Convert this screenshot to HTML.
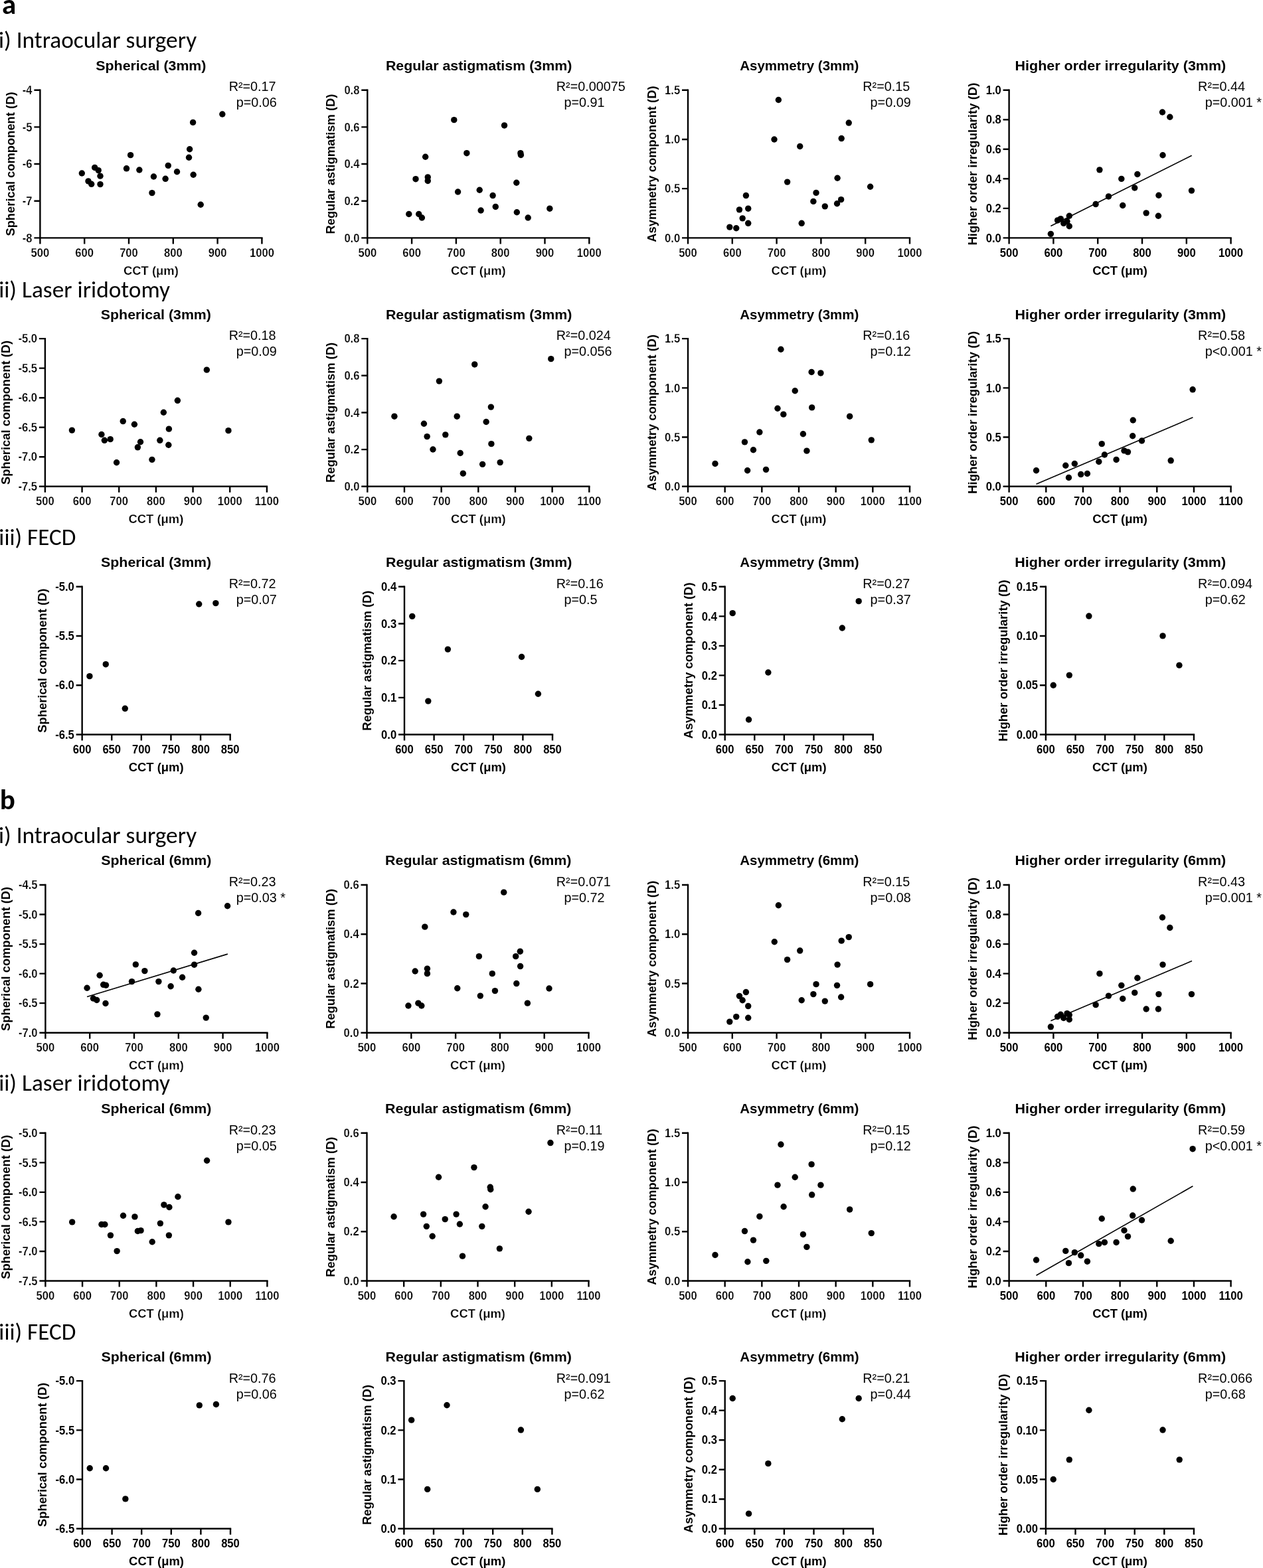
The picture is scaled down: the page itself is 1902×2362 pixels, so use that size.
<!DOCTYPE html>
<html lang="en"><head><meta charset="utf-8"><title>CCT correlation scatter plots</title>
<style>
html,body{margin:0;padding:0;background:#fff;}
body{width:1902px;height:2362px;overflow:hidden;}
svg{display:block;}
text{font-family:"Liberation Sans",Arial,Helvetica,sans-serif;fill:#000;}
.ax{fill:none;stroke:#000;stroke-width:2.4;stroke-linecap:square;}
.tk2{fill:none;stroke:#000;stroke-width:2.4;stroke-linecap:butt;}
.tk{font-size:17.5px;font-weight:700;}
.xl{font-size:18.4px;font-weight:700;}
.tkl,.xll{font-weight:700;stroke:#fff;stroke-width:0.25px;}
.yl{font-size:18.3px;font-weight:700;}
.ti{font-size:21.0px;font-weight:700;}
.st{font-size:19.8px;font-weight:400;}
.rl{fill:none;stroke:#000;stroke-width:1.6;}
.dt circle{fill:#000;}
.hd{font-family:Carlito,Calibri,"Liberation Sans",sans-serif;font-size:34.4px;font-weight:400;}
.let{font-family:Carlito,Calibri,"Liberation Sans",sans-serif;font-size:43px;font-weight:700;}
</style></head>
<body>
<svg width="1902" height="2362" viewBox="0 0 1902 2362">
<rect width="1902" height="2362" fill="#fff"/>
<text class="let" x="2.9" y="20.9">a</text>
<text class="let" x="-0.2" y="1219.4">b</text>
<text class="hd" x="-2.11" y="71.8" textLength="298.25" lengthAdjust="spacingAndGlyphs">i) Intraocular surgery</text>
<text class="hd" x="-1.87" y="447.8" textLength="257.91" lengthAdjust="spacingAndGlyphs">ii) Laser iridotomy</text>
<text class="hd" x="-1.65" y="821" textLength="115.91" lengthAdjust="spacingAndGlyphs">iii) FECD</text>
<text class="hd" x="-2.11" y="1270.4" textLength="298.25" lengthAdjust="spacingAndGlyphs">i) Intraocular surgery</text>
<text class="hd" x="-1.87" y="1642.8" textLength="257.91" lengthAdjust="spacingAndGlyphs">ii) Laser iridotomy</text>
<text class="hd" x="-1.65" y="2017.7" textLength="115.91" lengthAdjust="spacingAndGlyphs">iii) FECD</text>
<path class="tk2" d="M51.4 358.4H60.4M51.4 302.72H60.4M51.4 247.05H60.4M51.4 191.38H60.4M51.4 135.7H60.4M60.4 358.4V367.4M127.2 358.4V367.4M194 358.4V367.4M260.8 358.4V367.4M327.6 358.4V367.4M394.4 358.4V367.4"/>
<path class="ax" d="M60.4 135.7V358.4H394.4"/>
<text class="tk tkl" x="48.6" y="364.6" text-anchor="end" textLength="14.78" lengthAdjust="spacingAndGlyphs">-8</text>
<text class="tk tkl" x="48.6" y="308.92" text-anchor="end" textLength="14.78" lengthAdjust="spacingAndGlyphs">-7</text>
<text class="tk tkl" x="48.6" y="253.25" text-anchor="end" textLength="14.78" lengthAdjust="spacingAndGlyphs">-6</text>
<text class="tk tkl" x="48.6" y="197.57" text-anchor="end" textLength="14.78" lengthAdjust="spacingAndGlyphs">-5</text>
<text class="tk tkl" x="48.6" y="141.9" text-anchor="end" textLength="14.78" lengthAdjust="spacingAndGlyphs">-4</text>
<text class="tk tkl" x="60.4" y="386.7" text-anchor="middle" textLength="27.74" lengthAdjust="spacingAndGlyphs">500</text>
<text class="tk tkl" x="127.2" y="386.7" text-anchor="middle" textLength="27.74" lengthAdjust="spacingAndGlyphs">600</text>
<text class="tk tkl" x="194" y="386.7" text-anchor="middle" textLength="27.74" lengthAdjust="spacingAndGlyphs">700</text>
<text class="tk tkl" x="260.8" y="386.7" text-anchor="middle" textLength="27.74" lengthAdjust="spacingAndGlyphs">800</text>
<text class="tk tkl" x="327.6" y="386.7" text-anchor="middle" textLength="27.74" lengthAdjust="spacingAndGlyphs">900</text>
<text class="tk tkl" x="394.4" y="386.7" text-anchor="middle" textLength="36.98" lengthAdjust="spacingAndGlyphs">1000</text>
<text class="xl xll" x="227.4" y="413.6" text-anchor="middle">CCT (μm)</text>
<text class="yl" transform="translate(22.4 247.05) rotate(-90)" text-anchor="middle" style="font-size:18.35px">Spherical component (D)</text>
<text class="ti" x="227.4" y="106.1" text-anchor="middle" textLength="166.18" lengthAdjust="spacingAndGlyphs">Spherical (3mm)</text>
<text class="st" x="344.7" y="136.7">R²=0.17</text>
<text class="st" x="355.8" y="160.5">p=0.06</text>
<g class="dt"><circle cx="123.32" cy="261.01" r="4.7"/><circle cx="132.99" cy="272.9" r="4.7"/><circle cx="137.69" cy="277.32" r="4.7"/><circle cx="142.67" cy="252.44" r="4.7"/><circle cx="148.2" cy="256.59" r="4.7"/><circle cx="150.97" cy="265.16" r="4.7"/><circle cx="150.97" cy="277.6" r="4.7"/><circle cx="190.51" cy="253.82" r="4.7"/><circle cx="196.59" cy="233.64" r="4.7"/><circle cx="209.86" cy="256.03" r="4.7"/><circle cx="228.94" cy="290.6" r="4.7"/><circle cx="231.43" cy="265.99" r="4.7"/><circle cx="249.12" cy="269.31" r="4.7"/><circle cx="253.27" cy="249.4" r="4.7"/><circle cx="266.54" cy="258.8" r="4.7"/><circle cx="284.51" cy="237.23" r="4.7"/><circle cx="285.62" cy="224.79" r="4.7"/><circle cx="290.6" cy="184.42" r="4.7"/><circle cx="291.15" cy="263.22" r="4.7"/><circle cx="302.21" cy="308.29" r="4.7"/><circle cx="334.84" cy="171.98" r="4.7"/></g>
<path class="tk2" d="M544.3 358.4H553.3M544.3 302.72H553.3M544.3 247.05H553.3M544.3 191.38H553.3M544.3 135.7H553.3M553.3 358.4V367.4M620.1 358.4V367.4M686.9 358.4V367.4M753.7 358.4V367.4M820.5 358.4V367.4M887.3 358.4V367.4"/>
<path class="ax" d="M553.3 135.7V358.4H887.3"/>
<text class="tk tkl" x="541.5" y="364.6" text-anchor="end" textLength="23.11" lengthAdjust="spacingAndGlyphs">0.0</text>
<text class="tk tkl" x="541.5" y="308.92" text-anchor="end" textLength="23.11" lengthAdjust="spacingAndGlyphs">0.2</text>
<text class="tk tkl" x="541.5" y="253.25" text-anchor="end" textLength="23.11" lengthAdjust="spacingAndGlyphs">0.4</text>
<text class="tk tkl" x="541.5" y="197.57" text-anchor="end" textLength="23.11" lengthAdjust="spacingAndGlyphs">0.6</text>
<text class="tk tkl" x="541.5" y="141.9" text-anchor="end" textLength="23.11" lengthAdjust="spacingAndGlyphs">0.8</text>
<text class="tk tkl" x="553.3" y="386.7" text-anchor="middle" textLength="27.74" lengthAdjust="spacingAndGlyphs">500</text>
<text class="tk tkl" x="620.1" y="386.7" text-anchor="middle" textLength="27.74" lengthAdjust="spacingAndGlyphs">600</text>
<text class="tk tkl" x="686.9" y="386.7" text-anchor="middle" textLength="27.74" lengthAdjust="spacingAndGlyphs">700</text>
<text class="tk tkl" x="753.7" y="386.7" text-anchor="middle" textLength="27.74" lengthAdjust="spacingAndGlyphs">800</text>
<text class="tk tkl" x="820.5" y="386.7" text-anchor="middle" textLength="27.74" lengthAdjust="spacingAndGlyphs">900</text>
<text class="tk tkl" x="887.3" y="386.7" text-anchor="middle" textLength="36.98" lengthAdjust="spacingAndGlyphs">1000</text>
<text class="xl xll" x="720.3" y="413.6" text-anchor="middle">CCT (μm)</text>
<text class="yl" transform="translate(503.8 247.05) rotate(-90)" text-anchor="middle" style="font-size:18.35px">Regular astigmatism (D)</text>
<text class="ti" x="721.1" y="106.1" text-anchor="middle" textLength="280.4" lengthAdjust="spacingAndGlyphs">Regular astigmatism (3mm)</text>
<text class="st" x="837.8" y="136.7">R²=0.00075</text>
<text class="st" x="849.5" y="160.5">p=0.91</text>
<g class="dt"><circle cx="615.76" cy="322.49" r="4.7"/><circle cx="625.99" cy="269.68" r="4.7"/><circle cx="630.69" cy="322.49" r="4.7"/><circle cx="635.39" cy="328.02" r="4.7"/><circle cx="640.64" cy="236.22" r="4.7"/><circle cx="644.24" cy="266.91" r="4.7"/><circle cx="644.24" cy="272.44" r="4.7"/><circle cx="683.78" cy="180.64" r="4.7"/><circle cx="689.58" cy="289.03" r="4.7"/><circle cx="702.86" cy="230.69" r="4.7"/><circle cx="722.21" cy="286.27" r="4.7"/><circle cx="724.15" cy="316.96" r="4.7"/><circle cx="742.12" cy="294.56" r="4.7"/><circle cx="746.26" cy="311.43" r="4.7"/><circle cx="759.54" cy="188.94" r="4.7"/><circle cx="777.79" cy="275.21" r="4.7"/><circle cx="778.34" cy="319.72" r="4.7"/><circle cx="783.87" cy="230.69" r="4.7"/><circle cx="784.42" cy="233.45" r="4.7"/><circle cx="795.2" cy="328.02" r="4.7"/><circle cx="827.83" cy="314.19" r="4.7"/></g>
<path class="tk2" d="M1027 358.4H1036M1027 284.17H1036M1027 209.93H1036M1027 135.7H1036M1036 358.4V367.4M1102.8 358.4V367.4M1169.6 358.4V367.4M1236.4 358.4V367.4M1303.2 358.4V367.4M1370 358.4V367.4"/>
<path class="ax" d="M1036 135.7V358.4H1370"/>
<text class="tk tkl" x="1024.2" y="364.6" text-anchor="end" textLength="23.11" lengthAdjust="spacingAndGlyphs">0.0</text>
<text class="tk tkl" x="1024.2" y="290.37" text-anchor="end" textLength="23.11" lengthAdjust="spacingAndGlyphs">0.5</text>
<text class="tk tkl" x="1024.2" y="216.13" text-anchor="end" textLength="23.11" lengthAdjust="spacingAndGlyphs">1.0</text>
<text class="tk tkl" x="1024.2" y="141.9" text-anchor="end" textLength="23.11" lengthAdjust="spacingAndGlyphs">1.5</text>
<text class="tk tkl" x="1036" y="386.7" text-anchor="middle" textLength="27.74" lengthAdjust="spacingAndGlyphs">500</text>
<text class="tk tkl" x="1102.8" y="386.7" text-anchor="middle" textLength="27.74" lengthAdjust="spacingAndGlyphs">600</text>
<text class="tk tkl" x="1169.6" y="386.7" text-anchor="middle" textLength="27.74" lengthAdjust="spacingAndGlyphs">700</text>
<text class="tk tkl" x="1236.4" y="386.7" text-anchor="middle" textLength="27.74" lengthAdjust="spacingAndGlyphs">800</text>
<text class="tk tkl" x="1303.2" y="386.7" text-anchor="middle" textLength="27.74" lengthAdjust="spacingAndGlyphs">900</text>
<text class="tk tkl" x="1370" y="386.7" text-anchor="middle" textLength="36.98" lengthAdjust="spacingAndGlyphs">1000</text>
<text class="xl xll" x="1203" y="413.6" text-anchor="middle">CCT (μm)</text>
<text class="yl" transform="translate(988 247.05) rotate(-90)" text-anchor="middle" style="font-size:18.43px">Asymmetry component (D)</text>
<text class="ti" x="1203.8" y="106.1" text-anchor="middle" textLength="179.34" lengthAdjust="spacingAndGlyphs">Asymmetry (3mm)</text>
<text class="st" x="1299.3" y="136.7">R²=0.15</text>
<text class="st" x="1310.6" y="160.5">p=0.09</text>
<g class="dt"><circle cx="1098.8" cy="342.12" r="4.7"/><circle cx="1108.75" cy="343.78" r="4.7"/><circle cx="1113.45" cy="315.85" r="4.7"/><circle cx="1118.16" cy="328.85" r="4.7"/><circle cx="1123.41" cy="294.56" r="4.7"/><circle cx="1126.73" cy="314.19" r="4.7"/><circle cx="1126.73" cy="336.31" r="4.7"/><circle cx="1165.99" cy="209.95" r="4.7"/><circle cx="1172.35" cy="150.51" r="4.7"/><circle cx="1185.62" cy="274.1" r="4.7"/><circle cx="1204.7" cy="220.46" r="4.7"/><circle cx="1207.19" cy="336.31" r="4.7"/><circle cx="1224.88" cy="303.41" r="4.7"/><circle cx="1229.03" cy="290.41" r="4.7"/><circle cx="1242.3" cy="310.87" r="4.7"/><circle cx="1260.55" cy="306.73" r="4.7"/><circle cx="1261.1" cy="268.29" r="4.7"/><circle cx="1266.63" cy="300.64" r="4.7"/><circle cx="1267.19" cy="208.57" r="4.7"/><circle cx="1278.25" cy="185.07" r="4.7"/><circle cx="1310.6" cy="281.29" r="4.7"/></g>
<path class="tk2" d="M1510.6 358.4H1519.6M1510.6 313.86H1519.6M1510.6 269.32H1519.6M1510.6 224.78H1519.6M1510.6 180.24H1519.6M1510.6 135.7H1519.6M1519.6 358.4V367.4M1586.4 358.4V367.4M1653.2 358.4V367.4M1720 358.4V367.4M1786.8 358.4V367.4M1853.6 358.4V367.4"/>
<path class="ax" d="M1519.6 135.7V358.4H1853.6"/>
<text class="tk" x="1507.8" y="364.6" text-anchor="end" textLength="23.11" lengthAdjust="spacingAndGlyphs">0.0</text>
<text class="tk" x="1507.8" y="320.06" text-anchor="end" textLength="23.11" lengthAdjust="spacingAndGlyphs">0.2</text>
<text class="tk" x="1507.8" y="275.52" text-anchor="end" textLength="23.11" lengthAdjust="spacingAndGlyphs">0.4</text>
<text class="tk" x="1507.8" y="230.98" text-anchor="end" textLength="23.11" lengthAdjust="spacingAndGlyphs">0.6</text>
<text class="tk" x="1507.8" y="186.44" text-anchor="end" textLength="23.11" lengthAdjust="spacingAndGlyphs">0.8</text>
<text class="tk" x="1507.8" y="141.9" text-anchor="end" textLength="23.11" lengthAdjust="spacingAndGlyphs">1.0</text>
<text class="tk" x="1519.6" y="386.7" text-anchor="middle" textLength="27.74" lengthAdjust="spacingAndGlyphs">500</text>
<text class="tk" x="1586.4" y="386.7" text-anchor="middle" textLength="27.74" lengthAdjust="spacingAndGlyphs">600</text>
<text class="tk" x="1653.2" y="386.7" text-anchor="middle" textLength="27.74" lengthAdjust="spacingAndGlyphs">700</text>
<text class="tk" x="1720" y="386.7" text-anchor="middle" textLength="27.74" lengthAdjust="spacingAndGlyphs">800</text>
<text class="tk" x="1786.8" y="386.7" text-anchor="middle" textLength="27.74" lengthAdjust="spacingAndGlyphs">900</text>
<text class="tk" x="1853.6" y="386.7" text-anchor="middle" textLength="36.98" lengthAdjust="spacingAndGlyphs">1000</text>
<text class="xl" x="1686.6" y="413.6" text-anchor="middle">CCT (μm)</text>
<text class="yl" transform="translate(1470.7 247.05) rotate(-90)" text-anchor="middle" style="font-size:18.63px">Higher order irregularity (D)</text>
<text class="ti" x="1687.4" y="106.1" text-anchor="middle" textLength="317.71" lengthAdjust="spacingAndGlyphs">Higher order irregularity (3mm)</text>
<text class="st" x="1804.1" y="136.7">R²=0.44</text>
<text class="st" x="1814.7" y="160.5">p=0.001 *</text>
<path class="rl" d="M1582.37 340.46L1794.72 234.28"/>
<g class="dt"><circle cx="1582.37" cy="352.35" r="4.7"/><circle cx="1592.6" cy="331.89" r="4.7"/><circle cx="1597.3" cy="329.68" r="4.7"/><circle cx="1601.72" cy="336.31" r="4.7"/><circle cx="1606.98" cy="333.55" r="4.7"/><circle cx="1610.29" cy="325.25" r="4.7"/><circle cx="1610.29" cy="340.73" r="4.7"/><circle cx="1650.11" cy="307.56" r="4.7"/><circle cx="1655.91" cy="255.85" r="4.7"/><circle cx="1669.46" cy="295.94" r="4.7"/><circle cx="1688.82" cy="269.4" r="4.7"/><circle cx="1690.75" cy="309.49" r="4.7"/><circle cx="1708.73" cy="282.95" r="4.7"/><circle cx="1712.87" cy="262.49" r="4.7"/><circle cx="1726.14" cy="320.83" r="4.7"/><circle cx="1744.39" cy="325.25" r="4.7"/><circle cx="1744.95" cy="294.28" r="4.7"/><circle cx="1750.48" cy="169.03" r="4.7"/><circle cx="1751.03" cy="233.73" r="4.7"/><circle cx="1761.81" cy="176.22" r="4.7"/><circle cx="1794.44" cy="287.09" r="4.7"/></g>
<path class="tk2" d="M58.9 732.8H67.9M58.9 688.26H67.9M58.9 643.72H67.9M58.9 599.18H67.9M58.9 554.64H67.9M58.9 510.1H67.9M67.9 732.8V741.8M123.57 732.8V741.8M179.23 732.8V741.8M234.9 732.8V741.8M290.57 732.8V741.8M346.23 732.8V741.8M401.9 732.8V741.8"/>
<path class="ax" d="M67.9 510.1V732.8H401.9"/>
<text class="tk tkl" x="56.1" y="739" text-anchor="end" textLength="28.65" lengthAdjust="spacingAndGlyphs">-7.5</text>
<text class="tk tkl" x="56.1" y="694.46" text-anchor="end" textLength="28.65" lengthAdjust="spacingAndGlyphs">-7.0</text>
<text class="tk tkl" x="56.1" y="649.92" text-anchor="end" textLength="28.65" lengthAdjust="spacingAndGlyphs">-6.5</text>
<text class="tk tkl" x="56.1" y="605.38" text-anchor="end" textLength="28.65" lengthAdjust="spacingAndGlyphs">-6.0</text>
<text class="tk tkl" x="56.1" y="560.84" text-anchor="end" textLength="28.65" lengthAdjust="spacingAndGlyphs">-5.5</text>
<text class="tk tkl" x="56.1" y="516.3" text-anchor="end" textLength="28.65" lengthAdjust="spacingAndGlyphs">-5.0</text>
<text class="tk tkl" x="67.9" y="761.1" text-anchor="middle" textLength="27.74" lengthAdjust="spacingAndGlyphs">500</text>
<text class="tk tkl" x="123.57" y="761.1" text-anchor="middle" textLength="27.74" lengthAdjust="spacingAndGlyphs">600</text>
<text class="tk tkl" x="179.23" y="761.1" text-anchor="middle" textLength="27.74" lengthAdjust="spacingAndGlyphs">700</text>
<text class="tk tkl" x="234.9" y="761.1" text-anchor="middle" textLength="27.74" lengthAdjust="spacingAndGlyphs">800</text>
<text class="tk tkl" x="290.57" y="761.1" text-anchor="middle" textLength="27.74" lengthAdjust="spacingAndGlyphs">900</text>
<text class="tk tkl" x="346.23" y="761.1" text-anchor="middle" textLength="36.98" lengthAdjust="spacingAndGlyphs">1000</text>
<text class="tk tkl" x="401.9" y="761.1" text-anchor="middle" textLength="36.07" lengthAdjust="spacingAndGlyphs">1100</text>
<text class="xl xll" x="234.9" y="788" text-anchor="middle">CCT (μm)</text>
<text class="yl" transform="translate(15 621.45) rotate(-90)" text-anchor="middle" style="font-size:18.35px">Spherical component (D)</text>
<text class="ti" x="234.9" y="480.5" text-anchor="middle" textLength="166.18" lengthAdjust="spacingAndGlyphs">Spherical (3mm)</text>
<text class="st" x="344.7" y="512">R²=0.18</text>
<text class="st" x="355.8" y="535.8">p=0.09</text>
<g class="dt"><circle cx="108.39" cy="648.11" r="4.7"/><circle cx="152.9" cy="654.47" r="4.7"/><circle cx="157.33" cy="663.32" r="4.7"/><circle cx="166.17" cy="661.66" r="4.7"/><circle cx="175.57" cy="696.77" r="4.7"/><circle cx="185.25" cy="634.56" r="4.7"/><circle cx="202.39" cy="639.26" r="4.7"/><circle cx="207.37" cy="673.82" r="4.7"/><circle cx="211.52" cy="665.8" r="4.7"/><circle cx="228.94" cy="692.35" r="4.7"/><circle cx="240.83" cy="663.32" r="4.7"/><circle cx="246.36" cy="621.29" r="4.7"/><circle cx="253.82" cy="670.23" r="4.7"/><circle cx="254.38" cy="646.17" r="4.7"/><circle cx="267.37" cy="603.32" r="4.7"/><circle cx="311.33" cy="557.14" r="4.7"/><circle cx="343.96" cy="648.66" r="4.7"/></g>
<path class="tk2" d="M544.3 732.8H553.3M544.3 677.12H553.3M544.3 621.45H553.3M544.3 565.77H553.3M544.3 510.1H553.3M553.3 732.8V741.8M608.97 732.8V741.8M664.63 732.8V741.8M720.3 732.8V741.8M775.97 732.8V741.8M831.63 732.8V741.8M887.3 732.8V741.8"/>
<path class="ax" d="M553.3 510.1V732.8H887.3"/>
<text class="tk tkl" x="541.5" y="739" text-anchor="end" textLength="23.11" lengthAdjust="spacingAndGlyphs">0.0</text>
<text class="tk tkl" x="541.5" y="683.33" text-anchor="end" textLength="23.11" lengthAdjust="spacingAndGlyphs">0.2</text>
<text class="tk tkl" x="541.5" y="627.65" text-anchor="end" textLength="23.11" lengthAdjust="spacingAndGlyphs">0.4</text>
<text class="tk tkl" x="541.5" y="571.98" text-anchor="end" textLength="23.11" lengthAdjust="spacingAndGlyphs">0.6</text>
<text class="tk tkl" x="541.5" y="516.3" text-anchor="end" textLength="23.11" lengthAdjust="spacingAndGlyphs">0.8</text>
<text class="tk tkl" x="553.3" y="761.1" text-anchor="middle" textLength="27.74" lengthAdjust="spacingAndGlyphs">500</text>
<text class="tk tkl" x="608.97" y="761.1" text-anchor="middle" textLength="27.74" lengthAdjust="spacingAndGlyphs">600</text>
<text class="tk tkl" x="664.63" y="761.1" text-anchor="middle" textLength="27.74" lengthAdjust="spacingAndGlyphs">700</text>
<text class="tk tkl" x="720.3" y="761.1" text-anchor="middle" textLength="27.74" lengthAdjust="spacingAndGlyphs">800</text>
<text class="tk tkl" x="775.97" y="761.1" text-anchor="middle" textLength="27.74" lengthAdjust="spacingAndGlyphs">900</text>
<text class="tk tkl" x="831.63" y="761.1" text-anchor="middle" textLength="36.98" lengthAdjust="spacingAndGlyphs">1000</text>
<text class="tk tkl" x="887.3" y="761.1" text-anchor="middle" textLength="36.07" lengthAdjust="spacingAndGlyphs">1100</text>
<text class="xl xll" x="720.3" y="788" text-anchor="middle">CCT (μm)</text>
<text class="yl" transform="translate(503.8 621.45) rotate(-90)" text-anchor="middle" style="font-size:18.35px">Regular astigmatism (D)</text>
<text class="ti" x="721.1" y="480.5" text-anchor="middle" textLength="280.4" lengthAdjust="spacingAndGlyphs">Regular astigmatism (3mm)</text>
<text class="st" x="837.8" y="512">R²=0.024</text>
<text class="st" x="849.5" y="535.8">p=0.056</text>
<g class="dt"><circle cx="593.92" cy="627.19" r="4.7"/><circle cx="638.43" cy="638.25" r="4.7"/><circle cx="643.13" cy="657.6" r="4.7"/><circle cx="651.98" cy="676.96" r="4.7"/><circle cx="661.38" cy="574.1" r="4.7"/><circle cx="670.78" cy="654.84" r="4.7"/><circle cx="688.2" cy="627.19" r="4.7"/><circle cx="693.18" cy="682.49" r="4.7"/><circle cx="697.33" cy="713.18" r="4.7"/><circle cx="714.74" cy="548.94" r="4.7"/><circle cx="726.63" cy="699.35" r="4.7"/><circle cx="732.16" cy="635.48" r="4.7"/><circle cx="739.35" cy="613.09" r="4.7"/><circle cx="739.91" cy="668.66" r="4.7"/><circle cx="753.18" cy="696.59" r="4.7"/><circle cx="796.86" cy="660.37" r="4.7"/><circle cx="829.77" cy="540.64" r="4.7"/></g>
<path class="tk2" d="M1027 732.8H1036M1027 658.57H1036M1027 584.33H1036M1027 510.1H1036M1036 732.8V741.8M1091.67 732.8V741.8M1147.33 732.8V741.8M1203 732.8V741.8M1258.67 732.8V741.8M1314.33 732.8V741.8M1370 732.8V741.8"/>
<path class="ax" d="M1036 510.1V732.8H1370"/>
<text class="tk tkl" x="1024.2" y="739" text-anchor="end" textLength="23.11" lengthAdjust="spacingAndGlyphs">0.0</text>
<text class="tk tkl" x="1024.2" y="664.77" text-anchor="end" textLength="23.11" lengthAdjust="spacingAndGlyphs">0.5</text>
<text class="tk tkl" x="1024.2" y="590.53" text-anchor="end" textLength="23.11" lengthAdjust="spacingAndGlyphs">1.0</text>
<text class="tk tkl" x="1024.2" y="516.3" text-anchor="end" textLength="23.11" lengthAdjust="spacingAndGlyphs">1.5</text>
<text class="tk tkl" x="1036" y="761.1" text-anchor="middle" textLength="27.74" lengthAdjust="spacingAndGlyphs">500</text>
<text class="tk tkl" x="1091.67" y="761.1" text-anchor="middle" textLength="27.74" lengthAdjust="spacingAndGlyphs">600</text>
<text class="tk tkl" x="1147.33" y="761.1" text-anchor="middle" textLength="27.74" lengthAdjust="spacingAndGlyphs">700</text>
<text class="tk tkl" x="1203" y="761.1" text-anchor="middle" textLength="27.74" lengthAdjust="spacingAndGlyphs">800</text>
<text class="tk tkl" x="1258.67" y="761.1" text-anchor="middle" textLength="27.74" lengthAdjust="spacingAndGlyphs">900</text>
<text class="tk tkl" x="1314.33" y="761.1" text-anchor="middle" textLength="36.98" lengthAdjust="spacingAndGlyphs">1000</text>
<text class="tk tkl" x="1370" y="761.1" text-anchor="middle" textLength="36.07" lengthAdjust="spacingAndGlyphs">1100</text>
<text class="xl xll" x="1203" y="788" text-anchor="middle">CCT (μm)</text>
<text class="yl" transform="translate(988 621.45) rotate(-90)" text-anchor="middle" style="font-size:18.43px">Asymmetry component (D)</text>
<text class="ti" x="1203.8" y="480.5" text-anchor="middle" textLength="179.34" lengthAdjust="spacingAndGlyphs">Asymmetry (3mm)</text>
<text class="st" x="1299.3" y="512">R²=0.16</text>
<text class="st" x="1310.6" y="535.8">p=0.12</text>
<g class="dt"><circle cx="1076.96" cy="698.52" r="4.7"/><circle cx="1121.47" cy="665.9" r="4.7"/><circle cx="1125.62" cy="708.75" r="4.7"/><circle cx="1134.47" cy="677.79" r="4.7"/><circle cx="1143.87" cy="650.97" r="4.7"/><circle cx="1153.55" cy="707.37" r="4.7"/><circle cx="1170.97" cy="615.3" r="4.7"/><circle cx="1175.94" cy="526.27" r="4.7"/><circle cx="1179.81" cy="624.15" r="4.7"/><circle cx="1197.23" cy="588.75" r="4.7"/><circle cx="1209.4" cy="653.73" r="4.7"/><circle cx="1214.93" cy="679.17" r="4.7"/><circle cx="1222.12" cy="560.55" r="4.7"/><circle cx="1222.67" cy="613.92" r="4.7"/><circle cx="1235.94" cy="561.93" r="4.7"/><circle cx="1279.63" cy="627.19" r="4.7"/><circle cx="1312.25" cy="662.86" r="4.7"/></g>
<path class="tk2" d="M1510.6 732.8H1519.6M1510.6 658.57H1519.6M1510.6 584.33H1519.6M1510.6 510.1H1519.6M1519.6 732.8V741.8M1575.27 732.8V741.8M1630.93 732.8V741.8M1686.6 732.8V741.8M1742.27 732.8V741.8M1797.93 732.8V741.8M1853.6 732.8V741.8"/>
<path class="ax" d="M1519.6 510.1V732.8H1853.6"/>
<text class="tk" x="1507.8" y="739" text-anchor="end" textLength="23.11" lengthAdjust="spacingAndGlyphs">0.0</text>
<text class="tk" x="1507.8" y="664.77" text-anchor="end" textLength="23.11" lengthAdjust="spacingAndGlyphs">0.5</text>
<text class="tk" x="1507.8" y="590.53" text-anchor="end" textLength="23.11" lengthAdjust="spacingAndGlyphs">1.0</text>
<text class="tk" x="1507.8" y="516.3" text-anchor="end" textLength="23.11" lengthAdjust="spacingAndGlyphs">1.5</text>
<text class="tk" x="1519.6" y="761.1" text-anchor="middle" textLength="27.74" lengthAdjust="spacingAndGlyphs">500</text>
<text class="tk" x="1575.27" y="761.1" text-anchor="middle" textLength="27.74" lengthAdjust="spacingAndGlyphs">600</text>
<text class="tk" x="1630.93" y="761.1" text-anchor="middle" textLength="27.74" lengthAdjust="spacingAndGlyphs">700</text>
<text class="tk" x="1686.6" y="761.1" text-anchor="middle" textLength="27.74" lengthAdjust="spacingAndGlyphs">800</text>
<text class="tk" x="1742.27" y="761.1" text-anchor="middle" textLength="27.74" lengthAdjust="spacingAndGlyphs">900</text>
<text class="tk" x="1797.93" y="761.1" text-anchor="middle" textLength="36.98" lengthAdjust="spacingAndGlyphs">1000</text>
<text class="tk" x="1853.6" y="761.1" text-anchor="middle" textLength="36.07" lengthAdjust="spacingAndGlyphs">1100</text>
<text class="xl" x="1686.6" y="788" text-anchor="middle">CCT (μm)</text>
<text class="yl" transform="translate(1470.7 621.45) rotate(-90)" text-anchor="middle" style="font-size:18.63px">Higher order irregularity (D)</text>
<text class="ti" x="1687.4" y="480.5" text-anchor="middle" textLength="317.71" lengthAdjust="spacingAndGlyphs">Higher order irregularity (3mm)</text>
<text class="st" x="1804.1" y="512">R²=0.58</text>
<text class="st" x="1814.7" y="535.8">p&lt;0.001 *</text>
<path class="rl" d="M1560.52 729.21L1796.37 628.85"/>
<g class="dt"><circle cx="1560.52" cy="708.75" r="4.7"/><circle cx="1604.76" cy="701.29" r="4.7"/><circle cx="1609.46" cy="719.54" r="4.7"/><circle cx="1618.31" cy="698.52" r="4.7"/><circle cx="1627.71" cy="714.56" r="4.7"/><circle cx="1637.39" cy="713.45" r="4.7"/><circle cx="1654.81" cy="695.48" r="4.7"/><circle cx="1659.23" cy="668.66" r="4.7"/><circle cx="1663.38" cy="684.97" r="4.7"/><circle cx="1681.08" cy="692.44" r="4.7"/><circle cx="1692.97" cy="678.89" r="4.7"/><circle cx="1698.5" cy="680.83" r="4.7"/><circle cx="1705.68" cy="656.77" r="4.7"/><circle cx="1706.24" cy="632.99" r="4.7"/><circle cx="1719.51" cy="663.96" r="4.7"/><circle cx="1763.2" cy="693.82" r="4.7"/><circle cx="1796.1" cy="586.82" r="4.7"/></g>
<path class="tk2" d="M114.65 1106.5H123.65M114.65 1032.27H123.65M114.65 958.03H123.65M114.65 883.8H123.65M123.65 1106.5V1115.5M168.25 1106.5V1115.5M212.85 1106.5V1115.5M257.45 1106.5V1115.5M302.05 1106.5V1115.5M346.65 1106.5V1115.5"/>
<path class="ax" d="M123.65 883.8V1106.5H346.65"/>
<text class="tk" x="111.85" y="1112.7" text-anchor="end" textLength="28.65" lengthAdjust="spacingAndGlyphs">-6.5</text>
<text class="tk" x="111.85" y="1038.47" text-anchor="end" textLength="28.65" lengthAdjust="spacingAndGlyphs">-6.0</text>
<text class="tk" x="111.85" y="964.23" text-anchor="end" textLength="28.65" lengthAdjust="spacingAndGlyphs">-5.5</text>
<text class="tk" x="111.85" y="890" text-anchor="end" textLength="28.65" lengthAdjust="spacingAndGlyphs">-5.0</text>
<text class="tk" x="123.65" y="1134.8" text-anchor="middle" textLength="27.74" lengthAdjust="spacingAndGlyphs">600</text>
<text class="tk" x="168.25" y="1134.8" text-anchor="middle" textLength="27.74" lengthAdjust="spacingAndGlyphs">650</text>
<text class="tk" x="212.85" y="1134.8" text-anchor="middle" textLength="27.74" lengthAdjust="spacingAndGlyphs">700</text>
<text class="tk" x="257.45" y="1134.8" text-anchor="middle" textLength="27.74" lengthAdjust="spacingAndGlyphs">750</text>
<text class="tk" x="302.05" y="1134.8" text-anchor="middle" textLength="27.74" lengthAdjust="spacingAndGlyphs">800</text>
<text class="tk" x="346.65" y="1134.8" text-anchor="middle" textLength="27.74" lengthAdjust="spacingAndGlyphs">850</text>
<text class="xl" x="235.15" y="1161.7" text-anchor="middle">CCT (μm)</text>
<text class="yl" transform="translate(70.3 995.15) rotate(-90)" text-anchor="middle" style="font-size:18.35px">Spherical component (D)</text>
<text class="ti" x="235.15" y="854.2" text-anchor="middle" textLength="166.18" lengthAdjust="spacingAndGlyphs">Spherical (3mm)</text>
<text class="st" x="344.7" y="885.7">R²=0.72</text>
<text class="st" x="355.8" y="909.5">p=0.07</text>
<g class="dt"><circle cx="134.93" cy="1018.66" r="4.7"/><circle cx="159.26" cy="1000.69" r="4.7"/><circle cx="188.29" cy="1067.32" r="4.7"/><circle cx="299.72" cy="910" r="4.7"/><circle cx="324.88" cy="908.62" r="4.7"/></g>
<path class="tk2" d="M600 1106.5H609M600 1050.83H609M600 995.15H609M600 939.48H609M600 883.8H609M609 1106.5V1115.5M653.6 1106.5V1115.5M698.2 1106.5V1115.5M742.8 1106.5V1115.5M787.4 1106.5V1115.5M832 1106.5V1115.5"/>
<path class="ax" d="M609 883.8V1106.5H832"/>
<text class="tk" x="597.2" y="1112.7" text-anchor="end" textLength="23.11" lengthAdjust="spacingAndGlyphs">0.0</text>
<text class="tk" x="597.2" y="1057.03" text-anchor="end" textLength="23.11" lengthAdjust="spacingAndGlyphs">0.1</text>
<text class="tk" x="597.2" y="1001.35" text-anchor="end" textLength="23.11" lengthAdjust="spacingAndGlyphs">0.2</text>
<text class="tk" x="597.2" y="945.68" text-anchor="end" textLength="23.11" lengthAdjust="spacingAndGlyphs">0.3</text>
<text class="tk" x="597.2" y="890" text-anchor="end" textLength="23.11" lengthAdjust="spacingAndGlyphs">0.4</text>
<text class="tk" x="609" y="1134.8" text-anchor="middle" textLength="27.74" lengthAdjust="spacingAndGlyphs">600</text>
<text class="tk" x="653.6" y="1134.8" text-anchor="middle" textLength="27.74" lengthAdjust="spacingAndGlyphs">650</text>
<text class="tk" x="698.2" y="1134.8" text-anchor="middle" textLength="27.74" lengthAdjust="spacingAndGlyphs">700</text>
<text class="tk" x="742.8" y="1134.8" text-anchor="middle" textLength="27.74" lengthAdjust="spacingAndGlyphs">750</text>
<text class="tk" x="787.4" y="1134.8" text-anchor="middle" textLength="27.74" lengthAdjust="spacingAndGlyphs">800</text>
<text class="tk" x="832" y="1134.8" text-anchor="middle" textLength="27.74" lengthAdjust="spacingAndGlyphs">850</text>
<text class="xl" x="720.5" y="1161.7" text-anchor="middle">CCT (μm)</text>
<text class="yl" transform="translate(558.6 995.15) rotate(-90)" text-anchor="middle" style="font-size:18.35px">Regular astigmatism (D)</text>
<text class="ti" x="721.3" y="854.2" text-anchor="middle" textLength="280.4" lengthAdjust="spacingAndGlyphs">Regular astigmatism (3mm)</text>
<text class="st" x="837.8" y="885.7">R²=0.16</text>
<text class="st" x="849.5" y="909.5">p=0.5</text>
<g class="dt"><circle cx="620.74" cy="928.34" r="4.7"/><circle cx="644.79" cy="1056.08" r="4.7"/><circle cx="674.38" cy="978.11" r="4.7"/><circle cx="785.53" cy="989.45" r="4.7"/><circle cx="810.41" cy="1045.3" r="4.7"/></g>
<path class="tk2" d="M1082.7 1106.5H1091.7M1082.7 1061.96H1091.7M1082.7 1017.42H1091.7M1082.7 972.88H1091.7M1082.7 928.34H1091.7M1082.7 883.8H1091.7M1091.7 1106.5V1115.5M1136.3 1106.5V1115.5M1180.9 1106.5V1115.5M1225.5 1106.5V1115.5M1270.1 1106.5V1115.5M1314.7 1106.5V1115.5"/>
<path class="ax" d="M1091.7 883.8V1106.5H1314.7"/>
<text class="tk" x="1079.9" y="1112.7" text-anchor="end" textLength="23.11" lengthAdjust="spacingAndGlyphs">0.0</text>
<text class="tk" x="1079.9" y="1068.16" text-anchor="end" textLength="23.11" lengthAdjust="spacingAndGlyphs">0.1</text>
<text class="tk" x="1079.9" y="1023.62" text-anchor="end" textLength="23.11" lengthAdjust="spacingAndGlyphs">0.2</text>
<text class="tk" x="1079.9" y="979.08" text-anchor="end" textLength="23.11" lengthAdjust="spacingAndGlyphs">0.3</text>
<text class="tk" x="1079.9" y="934.54" text-anchor="end" textLength="23.11" lengthAdjust="spacingAndGlyphs">0.4</text>
<text class="tk" x="1079.9" y="890" text-anchor="end" textLength="23.11" lengthAdjust="spacingAndGlyphs">0.5</text>
<text class="tk" x="1091.7" y="1134.8" text-anchor="middle" textLength="27.74" lengthAdjust="spacingAndGlyphs">600</text>
<text class="tk" x="1136.3" y="1134.8" text-anchor="middle" textLength="27.74" lengthAdjust="spacingAndGlyphs">650</text>
<text class="tk" x="1180.9" y="1134.8" text-anchor="middle" textLength="27.74" lengthAdjust="spacingAndGlyphs">700</text>
<text class="tk" x="1225.5" y="1134.8" text-anchor="middle" textLength="27.74" lengthAdjust="spacingAndGlyphs">750</text>
<text class="tk" x="1270.1" y="1134.8" text-anchor="middle" textLength="27.74" lengthAdjust="spacingAndGlyphs">800</text>
<text class="tk" x="1314.7" y="1134.8" text-anchor="middle" textLength="27.74" lengthAdjust="spacingAndGlyphs">850</text>
<text class="xl" x="1203.2" y="1161.7" text-anchor="middle">CCT (μm)</text>
<text class="yl" transform="translate(1043.3 995.15) rotate(-90)" text-anchor="middle" style="font-size:18.43px">Asymmetry component (D)</text>
<text class="ti" x="1204" y="854.2" text-anchor="middle" textLength="179.34" lengthAdjust="spacingAndGlyphs">Asymmetry (3mm)</text>
<text class="st" x="1299.3" y="885.7">R²=0.27</text>
<text class="st" x="1310.6" y="909.5">p=0.37</text>
<g class="dt"><circle cx="1103.22" cy="923.64" r="4.7"/><circle cx="1127.56" cy="1084.01" r="4.7"/><circle cx="1156.86" cy="1012.95" r="4.7"/><circle cx="1268.29" cy="946.04" r="4.7"/><circle cx="1293.18" cy="905.67" r="4.7"/></g>
<path class="tk2" d="M1565.9 1106.5H1574.9M1565.9 1032.27H1574.9M1565.9 958.03H1574.9M1565.9 883.8H1574.9M1574.9 1106.5V1115.5M1619.5 1106.5V1115.5M1664.1 1106.5V1115.5M1708.7 1106.5V1115.5M1753.3 1106.5V1115.5M1797.9 1106.5V1115.5"/>
<path class="ax" d="M1574.9 883.8V1106.5H1797.9"/>
<text class="tk" x="1563.1" y="1112.7" text-anchor="end" textLength="32.36" lengthAdjust="spacingAndGlyphs">0.00</text>
<text class="tk" x="1563.1" y="1038.47" text-anchor="end" textLength="32.36" lengthAdjust="spacingAndGlyphs">0.05</text>
<text class="tk" x="1563.1" y="964.23" text-anchor="end" textLength="32.36" lengthAdjust="spacingAndGlyphs">0.10</text>
<text class="tk" x="1563.1" y="890" text-anchor="end" textLength="32.36" lengthAdjust="spacingAndGlyphs">0.15</text>
<text class="tk" x="1574.9" y="1134.8" text-anchor="middle" textLength="27.74" lengthAdjust="spacingAndGlyphs">600</text>
<text class="tk" x="1619.5" y="1134.8" text-anchor="middle" textLength="27.74" lengthAdjust="spacingAndGlyphs">650</text>
<text class="tk" x="1664.1" y="1134.8" text-anchor="middle" textLength="27.74" lengthAdjust="spacingAndGlyphs">700</text>
<text class="tk" x="1708.7" y="1134.8" text-anchor="middle" textLength="27.74" lengthAdjust="spacingAndGlyphs">750</text>
<text class="tk" x="1753.3" y="1134.8" text-anchor="middle" textLength="27.74" lengthAdjust="spacingAndGlyphs">800</text>
<text class="tk" x="1797.9" y="1134.8" text-anchor="middle" textLength="27.74" lengthAdjust="spacingAndGlyphs">850</text>
<text class="xl" x="1686.4" y="1161.7" text-anchor="middle">CCT (μm)</text>
<text class="yl" transform="translate(1516.9 995.15) rotate(-90)" text-anchor="middle" style="font-size:18.52px">Higher order irregularity (D)</text>
<text class="ti" x="1687.2" y="854.2" text-anchor="middle" textLength="317.71" lengthAdjust="spacingAndGlyphs">Higher order irregularity (3mm)</text>
<text class="st" x="1804.1" y="885.7">R²=0.094</text>
<text class="st" x="1814.7" y="909.5">p=0.62</text>
<g class="dt"><circle cx="1586.24" cy="1032.3" r="4.7"/><circle cx="1610.29" cy="1017.09" r="4.7"/><circle cx="1639.88" cy="928.06" r="4.7"/><circle cx="1751.03" cy="957.92" r="4.7"/><circle cx="1775.91" cy="1002.16" r="4.7"/></g>
<path class="tk2" d="M59.4 1555.7H68.4M59.4 1511.16H68.4M59.4 1466.62H68.4M59.4 1422.08H68.4M59.4 1377.54H68.4M59.4 1333H68.4M68.4 1555.7V1564.7M135.2 1555.7V1564.7M202 1555.7V1564.7M268.8 1555.7V1564.7M335.6 1555.7V1564.7M402.4 1555.7V1564.7"/>
<path class="ax" d="M68.4 1333V1555.7H402.4"/>
<text class="tk tkl" x="56.6" y="1561.9" text-anchor="end" textLength="28.65" lengthAdjust="spacingAndGlyphs">-7.0</text>
<text class="tk tkl" x="56.6" y="1517.36" text-anchor="end" textLength="28.65" lengthAdjust="spacingAndGlyphs">-6.5</text>
<text class="tk tkl" x="56.6" y="1472.82" text-anchor="end" textLength="28.65" lengthAdjust="spacingAndGlyphs">-6.0</text>
<text class="tk tkl" x="56.6" y="1428.28" text-anchor="end" textLength="28.65" lengthAdjust="spacingAndGlyphs">-5.5</text>
<text class="tk tkl" x="56.6" y="1383.74" text-anchor="end" textLength="28.65" lengthAdjust="spacingAndGlyphs">-5.0</text>
<text class="tk tkl" x="56.6" y="1339.2" text-anchor="end" textLength="28.65" lengthAdjust="spacingAndGlyphs">-4.5</text>
<text class="tk tkl" x="68.4" y="1584" text-anchor="middle" textLength="27.74" lengthAdjust="spacingAndGlyphs">500</text>
<text class="tk tkl" x="135.2" y="1584" text-anchor="middle" textLength="27.74" lengthAdjust="spacingAndGlyphs">600</text>
<text class="tk tkl" x="202" y="1584" text-anchor="middle" textLength="27.74" lengthAdjust="spacingAndGlyphs">700</text>
<text class="tk tkl" x="268.8" y="1584" text-anchor="middle" textLength="27.74" lengthAdjust="spacingAndGlyphs">800</text>
<text class="tk tkl" x="335.6" y="1584" text-anchor="middle" textLength="27.74" lengthAdjust="spacingAndGlyphs">900</text>
<text class="tk tkl" x="402.4" y="1584" text-anchor="middle" textLength="36.98" lengthAdjust="spacingAndGlyphs">1000</text>
<text class="xl xll" x="235.4" y="1610.9" text-anchor="middle">CCT (μm)</text>
<text class="yl" transform="translate(15 1444.35) rotate(-90)" text-anchor="middle" style="font-size:18.35px">Spherical component (D)</text>
<text class="ti" x="235.4" y="1303.4" text-anchor="middle" textLength="166.18" lengthAdjust="spacingAndGlyphs">Spherical (6mm)</text>
<text class="st" x="344.7" y="1335.1">R²=0.23</text>
<text class="st" x="355.8" y="1358.9">p=0.03 *</text>
<path class="rl" d="M131.06 1501.56L342.85 1437.14"/>
<g class="dt"><circle cx="131.06" cy="1488.29" r="4.7"/><circle cx="140.46" cy="1504.05" r="4.7"/><circle cx="145.71" cy="1506.54" r="4.7"/><circle cx="150.14" cy="1469.21" r="4.7"/><circle cx="155.67" cy="1483.32" r="4.7"/><circle cx="159.54" cy="1484.14" r="4.7"/><circle cx="158.98" cy="1511.52" r="4.7"/><circle cx="198.52" cy="1478.61" r="4.7"/><circle cx="204.33" cy="1452.9" r="4.7"/><circle cx="217.88" cy="1462.58" r="4.7"/><circle cx="236.96" cy="1527.83" r="4.7"/><circle cx="238.89" cy="1478.61" r="4.7"/><circle cx="257.14" cy="1485.8" r="4.7"/><circle cx="261.29" cy="1462.03" r="4.7"/><circle cx="274.56" cy="1472.26" r="4.7"/><circle cx="292.53" cy="1435.21" r="4.7"/><circle cx="292.53" cy="1453.18" r="4.7"/><circle cx="298.61" cy="1375.48" r="4.7"/><circle cx="298.89" cy="1490.23" r="4.7"/><circle cx="310.23" cy="1533.08" r="4.7"/><circle cx="342.58" cy="1364.7" r="4.7"/></g>
<path class="tk2" d="M543.5 1555.7H552.5M543.5 1481.47H552.5M543.5 1407.23H552.5M543.5 1333H552.5M552.5 1555.7V1564.7M619.3 1555.7V1564.7M686.1 1555.7V1564.7M752.9 1555.7V1564.7M819.7 1555.7V1564.7M886.5 1555.7V1564.7"/>
<path class="ax" d="M552.5 1333V1555.7H886.5"/>
<text class="tk tkl" x="540.7" y="1561.9" text-anchor="end" textLength="23.11" lengthAdjust="spacingAndGlyphs">0.0</text>
<text class="tk tkl" x="540.7" y="1487.67" text-anchor="end" textLength="23.11" lengthAdjust="spacingAndGlyphs">0.2</text>
<text class="tk tkl" x="540.7" y="1413.43" text-anchor="end" textLength="23.11" lengthAdjust="spacingAndGlyphs">0.4</text>
<text class="tk tkl" x="540.7" y="1339.2" text-anchor="end" textLength="23.11" lengthAdjust="spacingAndGlyphs">0.6</text>
<text class="tk tkl" x="552.5" y="1584" text-anchor="middle" textLength="27.74" lengthAdjust="spacingAndGlyphs">500</text>
<text class="tk tkl" x="619.3" y="1584" text-anchor="middle" textLength="27.74" lengthAdjust="spacingAndGlyphs">600</text>
<text class="tk tkl" x="686.1" y="1584" text-anchor="middle" textLength="27.74" lengthAdjust="spacingAndGlyphs">700</text>
<text class="tk tkl" x="752.9" y="1584" text-anchor="middle" textLength="27.74" lengthAdjust="spacingAndGlyphs">800</text>
<text class="tk tkl" x="819.7" y="1584" text-anchor="middle" textLength="27.74" lengthAdjust="spacingAndGlyphs">900</text>
<text class="tk tkl" x="886.5" y="1584" text-anchor="middle" textLength="36.98" lengthAdjust="spacingAndGlyphs">1000</text>
<text class="xl xll" x="719.5" y="1610.9" text-anchor="middle">CCT (μm)</text>
<text class="yl" transform="translate(503.8 1444.35) rotate(-90)" text-anchor="middle" style="font-size:18.35px">Regular astigmatism (D)</text>
<text class="ti" x="720.3" y="1303.4" text-anchor="middle" textLength="280.4" lengthAdjust="spacingAndGlyphs">Regular astigmatism (6mm)</text>
<text class="st" x="837.8" y="1335.1">R²=0.071</text>
<text class="st" x="849.5" y="1358.9">p=0.72</text>
<g class="dt"><circle cx="614.93" cy="1515.02" r="4.7"/><circle cx="625.16" cy="1463.04" r="4.7"/><circle cx="629.86" cy="1511.15" r="4.7"/><circle cx="634.84" cy="1515.02" r="4.7"/><circle cx="639.81" cy="1396.13" r="4.7"/><circle cx="643.41" cy="1459.17" r="4.7"/><circle cx="643.41" cy="1466.63" r="4.7"/><circle cx="682.95" cy="1374.01" r="4.7"/><circle cx="688.75" cy="1488.75" r="4.7"/><circle cx="701.75" cy="1377.6" r="4.7"/><circle cx="721.38" cy="1440.64" r="4.7"/><circle cx="723.32" cy="1500.09" r="4.7"/><circle cx="741.29" cy="1466.63" r="4.7"/><circle cx="745.44" cy="1492.62" r="4.7"/><circle cx="758.71" cy="1344.15" r="4.7"/><circle cx="776.68" cy="1440.64" r="4.7"/><circle cx="777.79" cy="1481.56" r="4.7"/><circle cx="783.32" cy="1433.18" r="4.7"/><circle cx="783.59" cy="1455.57" r="4.7"/><circle cx="794.37" cy="1511.15" r="4.7"/><circle cx="827" cy="1489.03" r="4.7"/></g>
<path class="tk2" d="M1027 1555.7H1036M1027 1481.47H1036M1027 1407.23H1036M1027 1333H1036M1036 1555.7V1564.7M1102.8 1555.7V1564.7M1169.6 1555.7V1564.7M1236.4 1555.7V1564.7M1303.2 1555.7V1564.7M1370 1555.7V1564.7"/>
<path class="ax" d="M1036 1333V1555.7H1370"/>
<text class="tk tkl" x="1024.2" y="1561.9" text-anchor="end" textLength="23.11" lengthAdjust="spacingAndGlyphs">0.0</text>
<text class="tk tkl" x="1024.2" y="1487.67" text-anchor="end" textLength="23.11" lengthAdjust="spacingAndGlyphs">0.5</text>
<text class="tk tkl" x="1024.2" y="1413.43" text-anchor="end" textLength="23.11" lengthAdjust="spacingAndGlyphs">1.0</text>
<text class="tk tkl" x="1024.2" y="1339.2" text-anchor="end" textLength="23.11" lengthAdjust="spacingAndGlyphs">1.5</text>
<text class="tk tkl" x="1036" y="1584" text-anchor="middle" textLength="27.74" lengthAdjust="spacingAndGlyphs">500</text>
<text class="tk tkl" x="1102.8" y="1584" text-anchor="middle" textLength="27.74" lengthAdjust="spacingAndGlyphs">600</text>
<text class="tk tkl" x="1169.6" y="1584" text-anchor="middle" textLength="27.74" lengthAdjust="spacingAndGlyphs">700</text>
<text class="tk tkl" x="1236.4" y="1584" text-anchor="middle" textLength="27.74" lengthAdjust="spacingAndGlyphs">800</text>
<text class="tk tkl" x="1303.2" y="1584" text-anchor="middle" textLength="27.74" lengthAdjust="spacingAndGlyphs">900</text>
<text class="tk tkl" x="1370" y="1584" text-anchor="middle" textLength="36.98" lengthAdjust="spacingAndGlyphs">1000</text>
<text class="xl xll" x="1203" y="1610.9" text-anchor="middle">CCT (μm)</text>
<text class="yl" transform="translate(988 1444.35) rotate(-90)" text-anchor="middle" style="font-size:18.43px">Asymmetry component (D)</text>
<text class="ti" x="1203.8" y="1303.4" text-anchor="middle" textLength="179.34" lengthAdjust="spacingAndGlyphs">Asymmetry (6mm)</text>
<text class="st" x="1299.3" y="1335.1">R²=0.15</text>
<text class="st" x="1310.6" y="1358.9">p=0.08</text>
<g class="dt"><circle cx="1098.8" cy="1539.08" r="4.7"/><circle cx="1108.75" cy="1531.61" r="4.7"/><circle cx="1113.45" cy="1500.37" r="4.7"/><circle cx="1118.16" cy="1506.73" r="4.7"/><circle cx="1123.41" cy="1494.56" r="4.7"/><circle cx="1126.73" cy="1515.57" r="4.7"/><circle cx="1126.73" cy="1533.27" r="4.7"/><circle cx="1166.27" cy="1418.8" r="4.7"/><circle cx="1172.35" cy="1363.78" r="4.7"/><circle cx="1185.62" cy="1445.62" r="4.7"/><circle cx="1204.7" cy="1432.07" r="4.7"/><circle cx="1207.19" cy="1506.73" r="4.7"/><circle cx="1224.88" cy="1497.6" r="4.7"/><circle cx="1229.03" cy="1482.67" r="4.7"/><circle cx="1242.3" cy="1508.11" r="4.7"/><circle cx="1260.55" cy="1484.33" r="4.7"/><circle cx="1261.1" cy="1453.09" r="4.7"/><circle cx="1266.63" cy="1502.03" r="4.7"/><circle cx="1267.19" cy="1417.14" r="4.7"/><circle cx="1278.25" cy="1411.61" r="4.7"/><circle cx="1310.6" cy="1482.67" r="4.7"/></g>
<path class="tk2" d="M1510.6 1555.7H1519.6M1510.6 1511.16H1519.6M1510.6 1466.62H1519.6M1510.6 1422.08H1519.6M1510.6 1377.54H1519.6M1510.6 1333H1519.6M1519.6 1555.7V1564.7M1586.4 1555.7V1564.7M1653.2 1555.7V1564.7M1720 1555.7V1564.7M1786.8 1555.7V1564.7M1853.6 1555.7V1564.7"/>
<path class="ax" d="M1519.6 1333V1555.7H1853.6"/>
<text class="tk" x="1507.8" y="1561.9" text-anchor="end" textLength="23.11" lengthAdjust="spacingAndGlyphs">0.0</text>
<text class="tk" x="1507.8" y="1517.36" text-anchor="end" textLength="23.11" lengthAdjust="spacingAndGlyphs">0.2</text>
<text class="tk" x="1507.8" y="1472.82" text-anchor="end" textLength="23.11" lengthAdjust="spacingAndGlyphs">0.4</text>
<text class="tk" x="1507.8" y="1428.28" text-anchor="end" textLength="23.11" lengthAdjust="spacingAndGlyphs">0.6</text>
<text class="tk" x="1507.8" y="1383.74" text-anchor="end" textLength="23.11" lengthAdjust="spacingAndGlyphs">0.8</text>
<text class="tk" x="1507.8" y="1339.2" text-anchor="end" textLength="23.11" lengthAdjust="spacingAndGlyphs">1.0</text>
<text class="tk" x="1519.6" y="1584" text-anchor="middle" textLength="27.74" lengthAdjust="spacingAndGlyphs">500</text>
<text class="tk" x="1586.4" y="1584" text-anchor="middle" textLength="27.74" lengthAdjust="spacingAndGlyphs">600</text>
<text class="tk" x="1653.2" y="1584" text-anchor="middle" textLength="27.74" lengthAdjust="spacingAndGlyphs">700</text>
<text class="tk" x="1720" y="1584" text-anchor="middle" textLength="27.74" lengthAdjust="spacingAndGlyphs">800</text>
<text class="tk" x="1786.8" y="1584" text-anchor="middle" textLength="27.74" lengthAdjust="spacingAndGlyphs">900</text>
<text class="tk" x="1853.6" y="1584" text-anchor="middle" textLength="36.98" lengthAdjust="spacingAndGlyphs">1000</text>
<text class="xl" x="1686.6" y="1610.9" text-anchor="middle">CCT (μm)</text>
<text class="yl" transform="translate(1470.7 1444.35) rotate(-90)" text-anchor="middle" style="font-size:18.63px">Higher order irregularity (D)</text>
<text class="ti" x="1687.4" y="1303.4" text-anchor="middle" textLength="317.71" lengthAdjust="spacingAndGlyphs">Higher order irregularity (6mm)</text>
<text class="st" x="1804.1" y="1335.1">R²=0.43</text>
<text class="st" x="1814.7" y="1358.9">p=0.001 *</text>
<path class="rl" d="M1582.37 1537.69L1794.99 1447.56"/>
<g class="dt"><circle cx="1582.37" cy="1546.82" r="4.7"/><circle cx="1592.6" cy="1531.33" r="4.7"/><circle cx="1597.3" cy="1528.29" r="4.7"/><circle cx="1601.72" cy="1533.55" r="4.7"/><circle cx="1606.98" cy="1526.63" r="4.7"/><circle cx="1610.29" cy="1528.85" r="4.7"/><circle cx="1610.29" cy="1535.76" r="4.7"/><circle cx="1650.11" cy="1513.64" r="4.7"/><circle cx="1655.91" cy="1466.63" r="4.7"/><circle cx="1669.46" cy="1500.09" r="4.7"/><circle cx="1688.82" cy="1484.33" r="4.7"/><circle cx="1690.75" cy="1504.51" r="4.7"/><circle cx="1708.73" cy="1495.39" r="4.7"/><circle cx="1712.87" cy="1473.27" r="4.7"/><circle cx="1726.14" cy="1520" r="4.7"/><circle cx="1744.39" cy="1520" r="4.7"/><circle cx="1744.95" cy="1497.6" r="4.7"/><circle cx="1750.48" cy="1382.03" r="4.7"/><circle cx="1751.03" cy="1453.09" r="4.7"/><circle cx="1761.81" cy="1397.51" r="4.7"/><circle cx="1794.44" cy="1497.6" r="4.7"/></g>
<path class="tk2" d="M59.4 1929.5H68.4M59.4 1884.96H68.4M59.4 1840.42H68.4M59.4 1795.88H68.4M59.4 1751.34H68.4M59.4 1706.8H68.4M68.4 1929.5V1938.5M124.07 1929.5V1938.5M179.73 1929.5V1938.5M235.4 1929.5V1938.5M291.07 1929.5V1938.5M346.73 1929.5V1938.5M402.4 1929.5V1938.5"/>
<path class="ax" d="M68.4 1706.8V1929.5H402.4"/>
<text class="tk tkl" x="56.6" y="1935.7" text-anchor="end" textLength="28.65" lengthAdjust="spacingAndGlyphs">-7.5</text>
<text class="tk tkl" x="56.6" y="1891.16" text-anchor="end" textLength="28.65" lengthAdjust="spacingAndGlyphs">-7.0</text>
<text class="tk tkl" x="56.6" y="1846.62" text-anchor="end" textLength="28.65" lengthAdjust="spacingAndGlyphs">-6.5</text>
<text class="tk tkl" x="56.6" y="1802.08" text-anchor="end" textLength="28.65" lengthAdjust="spacingAndGlyphs">-6.0</text>
<text class="tk tkl" x="56.6" y="1757.54" text-anchor="end" textLength="28.65" lengthAdjust="spacingAndGlyphs">-5.5</text>
<text class="tk tkl" x="56.6" y="1713" text-anchor="end" textLength="28.65" lengthAdjust="spacingAndGlyphs">-5.0</text>
<text class="tk tkl" x="68.4" y="1957.8" text-anchor="middle" textLength="27.74" lengthAdjust="spacingAndGlyphs">500</text>
<text class="tk tkl" x="124.07" y="1957.8" text-anchor="middle" textLength="27.74" lengthAdjust="spacingAndGlyphs">600</text>
<text class="tk tkl" x="179.73" y="1957.8" text-anchor="middle" textLength="27.74" lengthAdjust="spacingAndGlyphs">700</text>
<text class="tk tkl" x="235.4" y="1957.8" text-anchor="middle" textLength="27.74" lengthAdjust="spacingAndGlyphs">800</text>
<text class="tk tkl" x="291.07" y="1957.8" text-anchor="middle" textLength="27.74" lengthAdjust="spacingAndGlyphs">900</text>
<text class="tk tkl" x="346.73" y="1957.8" text-anchor="middle" textLength="36.98" lengthAdjust="spacingAndGlyphs">1000</text>
<text class="tk tkl" x="402.4" y="1957.8" text-anchor="middle" textLength="36.07" lengthAdjust="spacingAndGlyphs">1100</text>
<text class="xl xll" x="235.4" y="1984.7" text-anchor="middle">CCT (μm)</text>
<text class="yl" transform="translate(15 1818.15) rotate(-90)" text-anchor="middle" style="font-size:18.35px">Spherical component (D)</text>
<text class="ti" x="235.4" y="1677.2" text-anchor="middle" textLength="166.18" lengthAdjust="spacingAndGlyphs">Spherical (6mm)</text>
<text class="st" x="344.7" y="1708.7">R²=0.23</text>
<text class="st" x="355.8" y="1732.5">p=0.05</text>
<g class="dt"><circle cx="108.66" cy="1840.92" r="4.7"/><circle cx="152.9" cy="1844.51" r="4.7"/><circle cx="157.88" cy="1844.51" r="4.7"/><circle cx="166.45" cy="1860.83" r="4.7"/><circle cx="176.13" cy="1884.61" r="4.7"/><circle cx="185.53" cy="1831.24" r="4.7"/><circle cx="202.95" cy="1832.9" r="4.7"/><circle cx="207.37" cy="1854.47" r="4.7"/><circle cx="212.07" cy="1853.64" r="4.7"/><circle cx="229.21" cy="1870.78" r="4.7"/><circle cx="241.38" cy="1842.86" r="4.7"/><circle cx="246.91" cy="1814.93" r="4.7"/><circle cx="254.38" cy="1860.83" r="4.7"/><circle cx="254.93" cy="1818.52" r="4.7"/><circle cx="267.92" cy="1802.76" r="4.7"/><circle cx="311.61" cy="1748.29" r="4.7"/><circle cx="343.96" cy="1840.92" r="4.7"/></g>
<path class="tk2" d="M543.5 1929.5H552.5M543.5 1855.27H552.5M543.5 1781.03H552.5M543.5 1706.8H552.5M552.5 1929.5V1938.5M608.17 1929.5V1938.5M663.83 1929.5V1938.5M719.5 1929.5V1938.5M775.17 1929.5V1938.5M830.83 1929.5V1938.5M886.5 1929.5V1938.5"/>
<path class="ax" d="M552.5 1706.8V1929.5H886.5"/>
<text class="tk tkl" x="540.7" y="1935.7" text-anchor="end" textLength="23.11" lengthAdjust="spacingAndGlyphs">0.0</text>
<text class="tk tkl" x="540.7" y="1861.47" text-anchor="end" textLength="23.11" lengthAdjust="spacingAndGlyphs">0.2</text>
<text class="tk tkl" x="540.7" y="1787.23" text-anchor="end" textLength="23.11" lengthAdjust="spacingAndGlyphs">0.4</text>
<text class="tk tkl" x="540.7" y="1713" text-anchor="end" textLength="23.11" lengthAdjust="spacingAndGlyphs">0.6</text>
<text class="tk tkl" x="552.5" y="1957.8" text-anchor="middle" textLength="27.74" lengthAdjust="spacingAndGlyphs">500</text>
<text class="tk tkl" x="608.17" y="1957.8" text-anchor="middle" textLength="27.74" lengthAdjust="spacingAndGlyphs">600</text>
<text class="tk tkl" x="663.83" y="1957.8" text-anchor="middle" textLength="27.74" lengthAdjust="spacingAndGlyphs">700</text>
<text class="tk tkl" x="719.5" y="1957.8" text-anchor="middle" textLength="27.74" lengthAdjust="spacingAndGlyphs">800</text>
<text class="tk tkl" x="775.17" y="1957.8" text-anchor="middle" textLength="27.74" lengthAdjust="spacingAndGlyphs">900</text>
<text class="tk tkl" x="830.83" y="1957.8" text-anchor="middle" textLength="36.98" lengthAdjust="spacingAndGlyphs">1000</text>
<text class="tk tkl" x="886.5" y="1957.8" text-anchor="middle" textLength="36.07" lengthAdjust="spacingAndGlyphs">1100</text>
<text class="xl xll" x="719.5" y="1984.7" text-anchor="middle">CCT (μm)</text>
<text class="yl" transform="translate(503.8 1818.15) rotate(-90)" text-anchor="middle" style="font-size:18.35px">Regular astigmatism (D)</text>
<text class="ti" x="720.3" y="1677.2" text-anchor="middle" textLength="280.4" lengthAdjust="spacingAndGlyphs">Regular astigmatism (6mm)</text>
<text class="st" x="837.8" y="1708.7">R²=0.11</text>
<text class="st" x="849.5" y="1732.5">p=0.19</text>
<g class="dt"><circle cx="593.09" cy="1832.72" r="4.7"/><circle cx="637.6" cy="1829.12" r="4.7"/><circle cx="642.3" cy="1847.37" r="4.7"/><circle cx="651.15" cy="1862.3" r="4.7"/><circle cx="660.55" cy="1773.27" r="4.7"/><circle cx="670.23" cy="1836.59" r="4.7"/><circle cx="687.09" cy="1829.12" r="4.7"/><circle cx="692.35" cy="1844.05" r="4.7"/><circle cx="696.5" cy="1892.16" r="4.7"/><circle cx="713.91" cy="1758.62" r="4.7"/><circle cx="725.8" cy="1847.37" r="4.7"/><circle cx="731.06" cy="1817.79" r="4.7"/><circle cx="738.25" cy="1788.2" r="4.7"/><circle cx="738.8" cy="1791.8" r="4.7"/><circle cx="752.35" cy="1880.83" r="4.7"/><circle cx="796.03" cy="1825.25" r="4.7"/><circle cx="828.94" cy="1721.57" r="4.7"/></g>
<path class="tk2" d="M1027 1929.5H1036M1027 1855.27H1036M1027 1781.03H1036M1027 1706.8H1036M1036 1929.5V1938.5M1091.67 1929.5V1938.5M1147.33 1929.5V1938.5M1203 1929.5V1938.5M1258.67 1929.5V1938.5M1314.33 1929.5V1938.5M1370 1929.5V1938.5"/>
<path class="ax" d="M1036 1706.8V1929.5H1370"/>
<text class="tk tkl" x="1024.2" y="1935.7" text-anchor="end" textLength="23.11" lengthAdjust="spacingAndGlyphs">0.0</text>
<text class="tk tkl" x="1024.2" y="1861.47" text-anchor="end" textLength="23.11" lengthAdjust="spacingAndGlyphs">0.5</text>
<text class="tk tkl" x="1024.2" y="1787.23" text-anchor="end" textLength="23.11" lengthAdjust="spacingAndGlyphs">1.0</text>
<text class="tk tkl" x="1024.2" y="1713" text-anchor="end" textLength="23.11" lengthAdjust="spacingAndGlyphs">1.5</text>
<text class="tk tkl" x="1036" y="1957.8" text-anchor="middle" textLength="27.74" lengthAdjust="spacingAndGlyphs">500</text>
<text class="tk tkl" x="1091.67" y="1957.8" text-anchor="middle" textLength="27.74" lengthAdjust="spacingAndGlyphs">600</text>
<text class="tk tkl" x="1147.33" y="1957.8" text-anchor="middle" textLength="27.74" lengthAdjust="spacingAndGlyphs">700</text>
<text class="tk tkl" x="1203" y="1957.8" text-anchor="middle" textLength="27.74" lengthAdjust="spacingAndGlyphs">800</text>
<text class="tk tkl" x="1258.67" y="1957.8" text-anchor="middle" textLength="27.74" lengthAdjust="spacingAndGlyphs">900</text>
<text class="tk tkl" x="1314.33" y="1957.8" text-anchor="middle" textLength="36.98" lengthAdjust="spacingAndGlyphs">1000</text>
<text class="tk tkl" x="1370" y="1957.8" text-anchor="middle" textLength="36.07" lengthAdjust="spacingAndGlyphs">1100</text>
<text class="xl xll" x="1203" y="1984.7" text-anchor="middle">CCT (μm)</text>
<text class="yl" transform="translate(988 1818.15) rotate(-90)" text-anchor="middle" style="font-size:18.43px">Asymmetry component (D)</text>
<text class="ti" x="1203.8" y="1677.2" text-anchor="middle" textLength="179.34" lengthAdjust="spacingAndGlyphs">Asymmetry (6mm)</text>
<text class="st" x="1299.3" y="1708.7">R²=0.15</text>
<text class="st" x="1310.6" y="1732.5">p=0.12</text>
<g class="dt"><circle cx="1076.96" cy="1890.5" r="4.7"/><circle cx="1121.47" cy="1854.56" r="4.7"/><circle cx="1125.9" cy="1900.73" r="4.7"/><circle cx="1134.47" cy="1868.11" r="4.7"/><circle cx="1143.87" cy="1832.44" r="4.7"/><circle cx="1153.82" cy="1899.35" r="4.7"/><circle cx="1170.97" cy="1785.16" r="4.7"/><circle cx="1175.94" cy="1724.05" r="4.7"/><circle cx="1180.09" cy="1817.79" r="4.7"/><circle cx="1197.23" cy="1773.27" r="4.7"/><circle cx="1209.4" cy="1859.54" r="4.7"/><circle cx="1214.93" cy="1878.34" r="4.7"/><circle cx="1222.12" cy="1753.92" r="4.7"/><circle cx="1222.67" cy="1799.81" r="4.7"/><circle cx="1235.94" cy="1785.16" r="4.7"/><circle cx="1279.63" cy="1821.93" r="4.7"/><circle cx="1312.25" cy="1857.6" r="4.7"/></g>
<path class="tk2" d="M1510.6 1929.5H1519.6M1510.6 1884.96H1519.6M1510.6 1840.42H1519.6M1510.6 1795.88H1519.6M1510.6 1751.34H1519.6M1510.6 1706.8H1519.6M1519.6 1929.5V1938.5M1575.27 1929.5V1938.5M1630.93 1929.5V1938.5M1686.6 1929.5V1938.5M1742.27 1929.5V1938.5M1797.93 1929.5V1938.5M1853.6 1929.5V1938.5"/>
<path class="ax" d="M1519.6 1706.8V1929.5H1853.6"/>
<text class="tk" x="1507.8" y="1935.7" text-anchor="end" textLength="23.11" lengthAdjust="spacingAndGlyphs">0.0</text>
<text class="tk" x="1507.8" y="1891.16" text-anchor="end" textLength="23.11" lengthAdjust="spacingAndGlyphs">0.2</text>
<text class="tk" x="1507.8" y="1846.62" text-anchor="end" textLength="23.11" lengthAdjust="spacingAndGlyphs">0.4</text>
<text class="tk" x="1507.8" y="1802.08" text-anchor="end" textLength="23.11" lengthAdjust="spacingAndGlyphs">0.6</text>
<text class="tk" x="1507.8" y="1757.54" text-anchor="end" textLength="23.11" lengthAdjust="spacingAndGlyphs">0.8</text>
<text class="tk" x="1507.8" y="1713" text-anchor="end" textLength="23.11" lengthAdjust="spacingAndGlyphs">1.0</text>
<text class="tk" x="1519.6" y="1957.8" text-anchor="middle" textLength="27.74" lengthAdjust="spacingAndGlyphs">500</text>
<text class="tk" x="1575.27" y="1957.8" text-anchor="middle" textLength="27.74" lengthAdjust="spacingAndGlyphs">600</text>
<text class="tk" x="1630.93" y="1957.8" text-anchor="middle" textLength="27.74" lengthAdjust="spacingAndGlyphs">700</text>
<text class="tk" x="1686.6" y="1957.8" text-anchor="middle" textLength="27.74" lengthAdjust="spacingAndGlyphs">800</text>
<text class="tk" x="1742.27" y="1957.8" text-anchor="middle" textLength="27.74" lengthAdjust="spacingAndGlyphs">900</text>
<text class="tk" x="1797.93" y="1957.8" text-anchor="middle" textLength="36.98" lengthAdjust="spacingAndGlyphs">1000</text>
<text class="tk" x="1853.6" y="1957.8" text-anchor="middle" textLength="36.07" lengthAdjust="spacingAndGlyphs">1100</text>
<text class="xl" x="1686.6" y="1984.7" text-anchor="middle">CCT (μm)</text>
<text class="yl" transform="translate(1470.7 1818.15) rotate(-90)" text-anchor="middle" style="font-size:18.63px">Higher order irregularity (D)</text>
<text class="ti" x="1687.4" y="1677.2" text-anchor="middle" textLength="317.71" lengthAdjust="spacingAndGlyphs">Higher order irregularity (6mm)</text>
<text class="st" x="1804.1" y="1708.7">R²=0.59</text>
<text class="st" x="1814.7" y="1732.5">p&lt;0.001 *</text>
<path class="rl" d="M1560.52 1921.2L1796.37 1786.82"/>
<g class="dt"><circle cx="1560.52" cy="1897.97" r="4.7"/><circle cx="1604.76" cy="1884.42" r="4.7"/><circle cx="1609.46" cy="1902.67" r="4.7"/><circle cx="1618.31" cy="1886.63" r="4.7"/><circle cx="1627.71" cy="1891.06" r="4.7"/><circle cx="1637.39" cy="1900.18" r="4.7"/><circle cx="1654.81" cy="1873.64" r="4.7"/><circle cx="1659.23" cy="1835.76" r="4.7"/><circle cx="1663.38" cy="1871.43" r="4.7"/><circle cx="1681.08" cy="1871.43" r="4.7"/><circle cx="1692.97" cy="1853.45" r="4.7"/><circle cx="1698.5" cy="1862.58" r="4.7"/><circle cx="1705.68" cy="1831.06" r="4.7"/><circle cx="1706.24" cy="1790.97" r="4.7"/><circle cx="1719.51" cy="1837.97" r="4.7"/><circle cx="1763.2" cy="1869.21" r="4.7"/><circle cx="1796.1" cy="1730.69" r="4.7"/></g>
<path class="tk2" d="M115 2302.8H124M115 2228.57H124M115 2154.33H124M115 2080.1H124M124 2302.8V2311.8M168.6 2302.8V2311.8M213.2 2302.8V2311.8M257.8 2302.8V2311.8M302.4 2302.8V2311.8M347 2302.8V2311.8"/>
<path class="ax" d="M124 2080.1V2302.8H347"/>
<text class="tk" x="112.2" y="2309" text-anchor="end" textLength="28.65" lengthAdjust="spacingAndGlyphs">-6.5</text>
<text class="tk" x="112.2" y="2234.77" text-anchor="end" textLength="28.65" lengthAdjust="spacingAndGlyphs">-6.0</text>
<text class="tk" x="112.2" y="2160.53" text-anchor="end" textLength="28.65" lengthAdjust="spacingAndGlyphs">-5.5</text>
<text class="tk" x="112.2" y="2086.3" text-anchor="end" textLength="28.65" lengthAdjust="spacingAndGlyphs">-5.0</text>
<text class="tk" x="124" y="2331.1" text-anchor="middle" textLength="27.74" lengthAdjust="spacingAndGlyphs">600</text>
<text class="tk" x="168.6" y="2331.1" text-anchor="middle" textLength="27.74" lengthAdjust="spacingAndGlyphs">650</text>
<text class="tk" x="213.2" y="2331.1" text-anchor="middle" textLength="27.74" lengthAdjust="spacingAndGlyphs">700</text>
<text class="tk" x="257.8" y="2331.1" text-anchor="middle" textLength="27.74" lengthAdjust="spacingAndGlyphs">750</text>
<text class="tk" x="302.4" y="2331.1" text-anchor="middle" textLength="27.74" lengthAdjust="spacingAndGlyphs">800</text>
<text class="tk" x="347" y="2331.1" text-anchor="middle" textLength="27.74" lengthAdjust="spacingAndGlyphs">850</text>
<text class="xl" x="235.5" y="2358" text-anchor="middle">CCT (μm)</text>
<text class="yl" transform="translate(70.3 2191.45) rotate(-90)" text-anchor="middle" style="font-size:18.35px">Spherical component (D)</text>
<text class="ti" x="235.5" y="2050.5" text-anchor="middle" textLength="166.18" lengthAdjust="spacingAndGlyphs">Spherical (6mm)</text>
<text class="st" x="344.7" y="2083.2">R²=0.76</text>
<text class="st" x="355.8" y="2107">p=0.06</text>
<g class="dt"><circle cx="135.21" cy="2211.75" r="4.7"/><circle cx="159.54" cy="2211.75" r="4.7"/><circle cx="188.85" cy="2257.92" r="4.7"/><circle cx="300.27" cy="2116.91" r="4.7"/><circle cx="325.43" cy="2115.53" r="4.7"/></g>
<path class="tk2" d="M599.4 2302.8H608.4M599.4 2228.57H608.4M599.4 2154.33H608.4M599.4 2080.1H608.4M608.4 2302.8V2311.8M653 2302.8V2311.8M697.6 2302.8V2311.8M742.2 2302.8V2311.8M786.8 2302.8V2311.8M831.4 2302.8V2311.8"/>
<path class="ax" d="M608.4 2080.1V2302.8H831.4"/>
<text class="tk" x="596.6" y="2309" text-anchor="end" textLength="23.11" lengthAdjust="spacingAndGlyphs">0.0</text>
<text class="tk" x="596.6" y="2234.77" text-anchor="end" textLength="23.11" lengthAdjust="spacingAndGlyphs">0.1</text>
<text class="tk" x="596.6" y="2160.53" text-anchor="end" textLength="23.11" lengthAdjust="spacingAndGlyphs">0.2</text>
<text class="tk" x="596.6" y="2086.3" text-anchor="end" textLength="23.11" lengthAdjust="spacingAndGlyphs">0.3</text>
<text class="tk" x="608.4" y="2331.1" text-anchor="middle" textLength="27.74" lengthAdjust="spacingAndGlyphs">600</text>
<text class="tk" x="653" y="2331.1" text-anchor="middle" textLength="27.74" lengthAdjust="spacingAndGlyphs">650</text>
<text class="tk" x="697.6" y="2331.1" text-anchor="middle" textLength="27.74" lengthAdjust="spacingAndGlyphs">700</text>
<text class="tk" x="742.2" y="2331.1" text-anchor="middle" textLength="27.74" lengthAdjust="spacingAndGlyphs">750</text>
<text class="tk" x="786.8" y="2331.1" text-anchor="middle" textLength="27.74" lengthAdjust="spacingAndGlyphs">800</text>
<text class="tk" x="831.4" y="2331.1" text-anchor="middle" textLength="27.74" lengthAdjust="spacingAndGlyphs">850</text>
<text class="xl" x="719.9" y="2358" text-anchor="middle">CCT (μm)</text>
<text class="yl" transform="translate(558.6 2191.45) rotate(-90)" text-anchor="middle" style="font-size:18.35px">Regular astigmatism (D)</text>
<text class="ti" x="720.7" y="2050.5" text-anchor="middle" textLength="280.4" lengthAdjust="spacingAndGlyphs">Regular astigmatism (6mm)</text>
<text class="st" x="837.8" y="2083.2">R²=0.091</text>
<text class="st" x="849.5" y="2107">p=0.62</text>
<g class="dt"><circle cx="619.63" cy="2139.14" r="4.7"/><circle cx="643.69" cy="2243.38" r="4.7"/><circle cx="672.99" cy="2116.75" r="4.7"/><circle cx="784.42" cy="2154.07" r="4.7"/><circle cx="809.31" cy="2243.38" r="4.7"/></g>
<path class="tk2" d="M1082.7 2302.8H1091.7M1082.7 2258.26H1091.7M1082.7 2213.72H1091.7M1082.7 2169.18H1091.7M1082.7 2124.64H1091.7M1082.7 2080.1H1091.7M1091.7 2302.8V2311.8M1136.3 2302.8V2311.8M1180.9 2302.8V2311.8M1225.5 2302.8V2311.8M1270.1 2302.8V2311.8M1314.7 2302.8V2311.8"/>
<path class="ax" d="M1091.7 2080.1V2302.8H1314.7"/>
<text class="tk" x="1079.9" y="2309" text-anchor="end" textLength="23.11" lengthAdjust="spacingAndGlyphs">0.0</text>
<text class="tk" x="1079.9" y="2264.46" text-anchor="end" textLength="23.11" lengthAdjust="spacingAndGlyphs">0.1</text>
<text class="tk" x="1079.9" y="2219.92" text-anchor="end" textLength="23.11" lengthAdjust="spacingAndGlyphs">0.2</text>
<text class="tk" x="1079.9" y="2175.38" text-anchor="end" textLength="23.11" lengthAdjust="spacingAndGlyphs">0.3</text>
<text class="tk" x="1079.9" y="2130.84" text-anchor="end" textLength="23.11" lengthAdjust="spacingAndGlyphs">0.4</text>
<text class="tk" x="1079.9" y="2086.3" text-anchor="end" textLength="23.11" lengthAdjust="spacingAndGlyphs">0.5</text>
<text class="tk" x="1091.7" y="2331.1" text-anchor="middle" textLength="27.74" lengthAdjust="spacingAndGlyphs">600</text>
<text class="tk" x="1136.3" y="2331.1" text-anchor="middle" textLength="27.74" lengthAdjust="spacingAndGlyphs">650</text>
<text class="tk" x="1180.9" y="2331.1" text-anchor="middle" textLength="27.74" lengthAdjust="spacingAndGlyphs">700</text>
<text class="tk" x="1225.5" y="2331.1" text-anchor="middle" textLength="27.74" lengthAdjust="spacingAndGlyphs">750</text>
<text class="tk" x="1270.1" y="2331.1" text-anchor="middle" textLength="27.74" lengthAdjust="spacingAndGlyphs">800</text>
<text class="tk" x="1314.7" y="2331.1" text-anchor="middle" textLength="27.74" lengthAdjust="spacingAndGlyphs">850</text>
<text class="xl" x="1203.2" y="2358" text-anchor="middle">CCT (μm)</text>
<text class="yl" transform="translate(1043.3 2191.45) rotate(-90)" text-anchor="middle" style="font-size:18.43px">Asymmetry component (D)</text>
<text class="ti" x="1204" y="2050.5" text-anchor="middle" textLength="179.34" lengthAdjust="spacingAndGlyphs">Asymmetry (6mm)</text>
<text class="st" x="1299.3" y="2083.2">R²=0.21</text>
<text class="st" x="1310.6" y="2107">p=0.44</text>
<g class="dt"><circle cx="1103.22" cy="2106.52" r="4.7"/><circle cx="1127.56" cy="2280.15" r="4.7"/><circle cx="1156.86" cy="2204.67" r="4.7"/><circle cx="1268.29" cy="2137.76" r="4.7"/><circle cx="1293.18" cy="2106.52" r="4.7"/></g>
<path class="tk2" d="M1565.9 2302.8H1574.9M1565.9 2228.57H1574.9M1565.9 2154.33H1574.9M1565.9 2080.1H1574.9M1574.9 2302.8V2311.8M1619.5 2302.8V2311.8M1664.1 2302.8V2311.8M1708.7 2302.8V2311.8M1753.3 2302.8V2311.8M1797.9 2302.8V2311.8"/>
<path class="ax" d="M1574.9 2080.1V2302.8H1797.9"/>
<text class="tk" x="1563.1" y="2309" text-anchor="end" textLength="32.36" lengthAdjust="spacingAndGlyphs">0.00</text>
<text class="tk" x="1563.1" y="2234.77" text-anchor="end" textLength="32.36" lengthAdjust="spacingAndGlyphs">0.05</text>
<text class="tk" x="1563.1" y="2160.53" text-anchor="end" textLength="32.36" lengthAdjust="spacingAndGlyphs">0.10</text>
<text class="tk" x="1563.1" y="2086.3" text-anchor="end" textLength="32.36" lengthAdjust="spacingAndGlyphs">0.15</text>
<text class="tk" x="1574.9" y="2331.1" text-anchor="middle" textLength="27.74" lengthAdjust="spacingAndGlyphs">600</text>
<text class="tk" x="1619.5" y="2331.1" text-anchor="middle" textLength="27.74" lengthAdjust="spacingAndGlyphs">650</text>
<text class="tk" x="1664.1" y="2331.1" text-anchor="middle" textLength="27.74" lengthAdjust="spacingAndGlyphs">700</text>
<text class="tk" x="1708.7" y="2331.1" text-anchor="middle" textLength="27.74" lengthAdjust="spacingAndGlyphs">750</text>
<text class="tk" x="1753.3" y="2331.1" text-anchor="middle" textLength="27.74" lengthAdjust="spacingAndGlyphs">800</text>
<text class="tk" x="1797.9" y="2331.1" text-anchor="middle" textLength="27.74" lengthAdjust="spacingAndGlyphs">850</text>
<text class="xl" x="1686.4" y="2358" text-anchor="middle">CCT (μm)</text>
<text class="yl" transform="translate(1516.9 2191.45) rotate(-90)" text-anchor="middle" style="font-size:18.52px">Higher order irregularity (D)</text>
<text class="ti" x="1687.2" y="2050.5" text-anchor="middle" textLength="317.71" lengthAdjust="spacingAndGlyphs">Higher order irregularity (6mm)</text>
<text class="st" x="1804.1" y="2083.2">R²=0.066</text>
<text class="st" x="1814.7" y="2107">p=0.68</text>
<g class="dt"><circle cx="1586.24" cy="2228.45" r="4.7"/><circle cx="1610.29" cy="2198.86" r="4.7"/><circle cx="1639.88" cy="2124.21" r="4.7"/><circle cx="1751.03" cy="2154.07" r="4.7"/><circle cx="1776.19" cy="2198.86" r="4.7"/></g>
</svg>
</body></html>
